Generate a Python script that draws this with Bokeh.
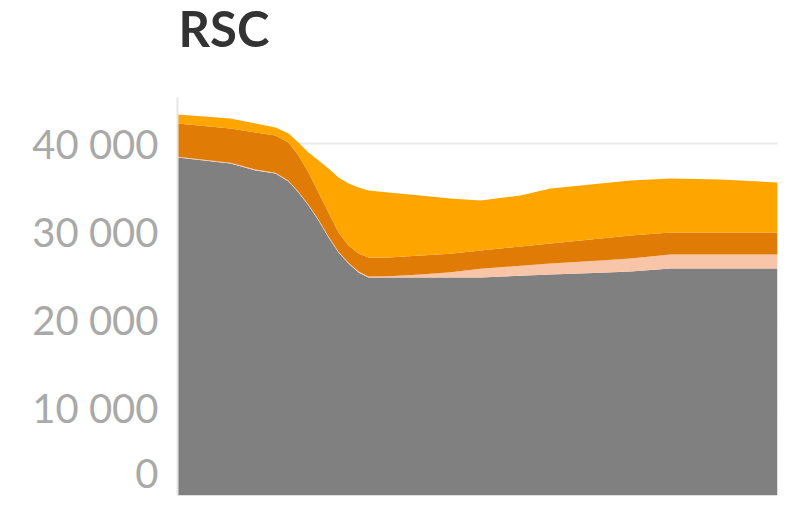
from bokeh.plotting import figure
from bokeh.models import Range1d, FixedTicker, ColumnDataSource, Label
from bokeh.embed import file_html
from bokeh.resources import INLINE

# x position along the (unlabelled) time axis
x = [0, 5.3, 7.8, 9.8, 11.1, 12.1, 13.1, 14.1, 15.1, 16.1, 17.1, 18.1, 19.1,
     21.1, 24.3, 27.3, 30.3, 34.3, 37.3, 42.3, 45.3, 49.3, 54.3, 60]
grey = [38460, 37780, 36990, 36640, 35730, 34480, 33000, 31300, 29360, 27650,
        26400, 25380, 24810, 24810, 24810, 24810, 24810, 25000, 25150, 25350,
        25490, 25830, 25830, 25830]
peach = [100, 100, 100, 100, 100, 100, 100, 100, 100, 100, 100, 100, 100,
         150, 350, 600, 1000, 1150, 1250, 1400, 1480, 1590, 1590, 1590]
dark_orange = [3770, 3880, 4220, 4230, 4340, 4110, 3660, 3080, 2750, 2180,
               1950, 2060, 2170, 2120, 2140, 2090, 2070, 2190, 2280, 2500,
               2620, 2510, 2510, 2510]
orange = [1030, 1140, 1020, 910, 1030, 1480, 2270, 3640, 5000, 6260, 7060,
          7510, 7630, 7400, 6850, 6300, 5690, 5800, 6260, 6260, 6260, 6140,
          6030, 5690]

y_ticks = [0, 10000, 20000, 30000, 40000]
y_tick_labels = ["0", "10 000", "20 000", "30 000", "40 000"]
title_text = "RSC"

series = ["grey", "peach", "dark_orange", "orange"]
colors = ["#808080", "#f8c5a9", "#e07c06", "#ffa500"]

source = ColumnDataSource(dict(x=x, grey=grey, peach=peach,
                               dark_orange=dark_orange, orange=orange))

# the frame reaches the top of the canvas; the value axis only spans 0..45300
p = figure(width=779, height=496, output_backend="svg", toolbar_location=None,
           x_range=Range1d(0, 60), y_range=Range1d(0, 56330),
           min_border_left=177, min_border_right=2,
           min_border_bottom=1, min_border_top=0)

p.varea_stack(stackers=series, x="x", color=colors, source=source)

title = Label(x=1, y=468, x_units="screen", y_units="screen", text=title_text,
              text_font="Lato", text_font_size="49px", text_font_style="bold",
              text_color="#333333", text_baseline="alphabetic",
              text_align="left")
p.add_layout(title)

p.outline_line_color = None
p.background_fill_color = "white"
p.border_fill_color = "white"

p.xaxis.visible = False
p.xgrid.visible = False

p.ygrid.ticker = FixedTicker(ticks=y_ticks)
p.ygrid.grid_line_color = "#e9e9e9"
p.ygrid.grid_line_width = 2

yax = p.yaxis[0]
yax.bounds = (0, 45300)
yax.ticker = FixedTicker(ticks=y_ticks)
yax.major_label_overrides = {t: l for t, l in zip(y_ticks, y_tick_labels)}
yax.axis_line_color = "#e6e6e6"
yax.axis_line_width = 2
yax.major_tick_line_color = None
yax.minor_tick_line_color = None
yax.major_tick_out = 0
yax.major_label_standoff = 19
yax.major_label_text_font = "Lato"
yax.major_label_text_font_size = "40px"
yax.major_label_text_color = "#a9a9a9"

open("out.html", "w").write(file_html(p, INLINE))
